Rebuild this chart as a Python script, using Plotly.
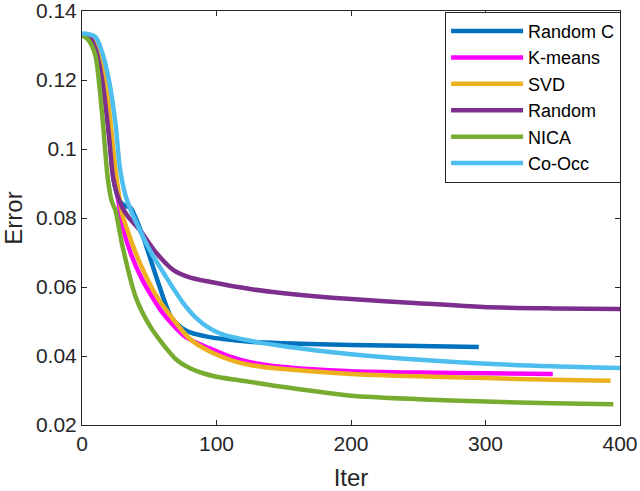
import plotly.graph_objects as go

# ---- data ----
names = ["Random C", "K-means", "SVD", "Random", "NICA", "Co-Occ"]
colors = ["#0072BD", "#FF00FF", "#EDB120", "#7E2F8E", "#77AC30", "#4DBEEE"]

randc_x = [0, 5, 10, 15, 20, 24, 28, 32, 36, 45, 56, 66, 74, 82, 92, 105, 125, 150, 200, 250, 295]
randc_y = [0.133, 0.1325, 0.130, 0.122, 0.105, 0.090, 0.085, 0.0835, 0.083, 0.075, 0.062, 0.0515, 0.0482, 0.0466, 0.0457, 0.0449, 0.0441, 0.0437, 0.0432, 0.0429, 0.0426]

kmeans_x = [0, 5, 10, 15, 20, 24, 27, 30, 36, 45, 60, 77, 95, 110, 125, 150, 200, 250, 300, 350]
kmeans_y = [0.133, 0.1325, 0.130, 0.124, 0.108, 0.093, 0.085, 0.078, 0.070, 0.062, 0.0525, 0.0455, 0.0422, 0.0398, 0.0382, 0.0368, 0.0356, 0.0352, 0.035, 0.0348]

svd_x = [0, 5, 10, 15, 20, 24, 27, 30, 36, 43, 56, 80, 95, 110, 125, 150, 200, 250, 300, 350, 393]
svd_y = [0.133, 0.1325, 0.130, 0.125, 0.112, 0.097, 0.088, 0.081, 0.074, 0.067, 0.057, 0.045, 0.0413, 0.0389, 0.0374, 0.0362, 0.0348, 0.0341, 0.0336, 0.0331, 0.0328]

rand_x = [0, 5, 10, 15, 20, 23, 26, 30, 35, 43, 55, 68, 80, 95, 125, 150, 200, 250, 298, 350, 400]
rand_y = [0.133, 0.1325, 0.129, 0.120, 0.104, 0.092, 0.087, 0.083, 0.080, 0.0765, 0.070, 0.0649, 0.0628, 0.0615, 0.0594, 0.0582, 0.0565, 0.0553, 0.0542, 0.0538, 0.0536]

nica_x = [0, 5, 10, 15, 19, 22, 25, 30, 40, 50, 60, 70, 80, 90, 100, 125, 150, 200, 250, 300, 350, 395]
nica_y = [0.133, 0.1315, 0.127, 0.110, 0.092, 0.085, 0.082, 0.072, 0.057, 0.049, 0.0435, 0.039, 0.0365, 0.035, 0.034, 0.0325, 0.031, 0.0285, 0.0275, 0.0268, 0.0263, 0.026]

cooc_x = [0, 5, 10, 15, 20, 25, 28, 32, 36, 40, 50, 56, 75, 85, 95, 105, 125, 150, 200, 274, 350, 400]
cooc_y = [0.1335, 0.1333, 0.1325, 0.128, 0.120, 0.107, 0.095, 0.087, 0.0825, 0.079, 0.071, 0.067, 0.0555, 0.051, 0.048, 0.0462, 0.0444, 0.0428, 0.0405, 0.0383, 0.037, 0.0365]

xs = [randc_x, kmeans_x, svd_x, rand_x, nica_x, cooc_x]
ys = [randc_y, kmeans_y, svd_y, rand_y, nica_y, cooc_y]

y_ticks = [0.02, 0.04, 0.06, 0.08, 0.10, 0.12, 0.14]
y_ticktext = ["0.02", "0.04", "0.06", "0.08", "0.1", "0.12", "0.14"]
x_ticks = [0, 100, 200, 300, 400]

font_family = "Liberation Sans, Arial, Helvetica, sans-serif"
axis_color = "#262626"

fig = go.Figure()
for n, c, x, y in zip(names, colors, xs, ys):
    fig.add_trace(go.Scatter(x=x, y=y, mode="lines", name=n,
                             line=dict(color=c, width=4.5, shape="spline", smoothing=0.7)))

fig.update_layout(
    width=640, height=491,
    margin=dict(l=82, r=20, t=11, b=66, autoexpand=False),
    paper_bgcolor="white", plot_bgcolor="white",
    font=dict(family=font_family, size=21, color=axis_color),
    showlegend=True,
    legend=dict(x=1.002, xanchor="right", y=0.998, yanchor="top",
                bgcolor="white", bordercolor=axis_color, borderwidth=1,
                font=dict(size=18, color="black"), itemwidth=72,
                tracegroupgap=0),
)
fig.update_xaxes(range=[0, 400], tickvals=x_ticks, ticks="inside", ticklen=5,
                 tickcolor=axis_color, showline=True, linecolor=axis_color, linewidth=1,
                 mirror="ticks", showgrid=False, zeroline=False, automargin=False,
                 ticklabeloverflow="allow",
                 title=dict(text="Iter", font=dict(size=24), standoff=18),
                 tickfont=dict(size=21))
fig.update_yaxes(range=[0.02, 0.14], tickvals=y_ticks, ticktext=y_ticktext, ticks="inside",
                 ticklen=5, tickcolor=axis_color, showline=True, linecolor=axis_color,
                 linewidth=1, mirror="ticks", showgrid=False, zeroline=False, automargin=False,
                 ticklabeloverflow="allow",
                 title=dict(text="Error", font=dict(size=24), standoff=9),
                 tickfont=dict(size=21))

fig.write_html("out.html", config={"displayModeBar": False},
               post_script="document.body.style.margin='0';document.body.style.overflow='hidden';")
